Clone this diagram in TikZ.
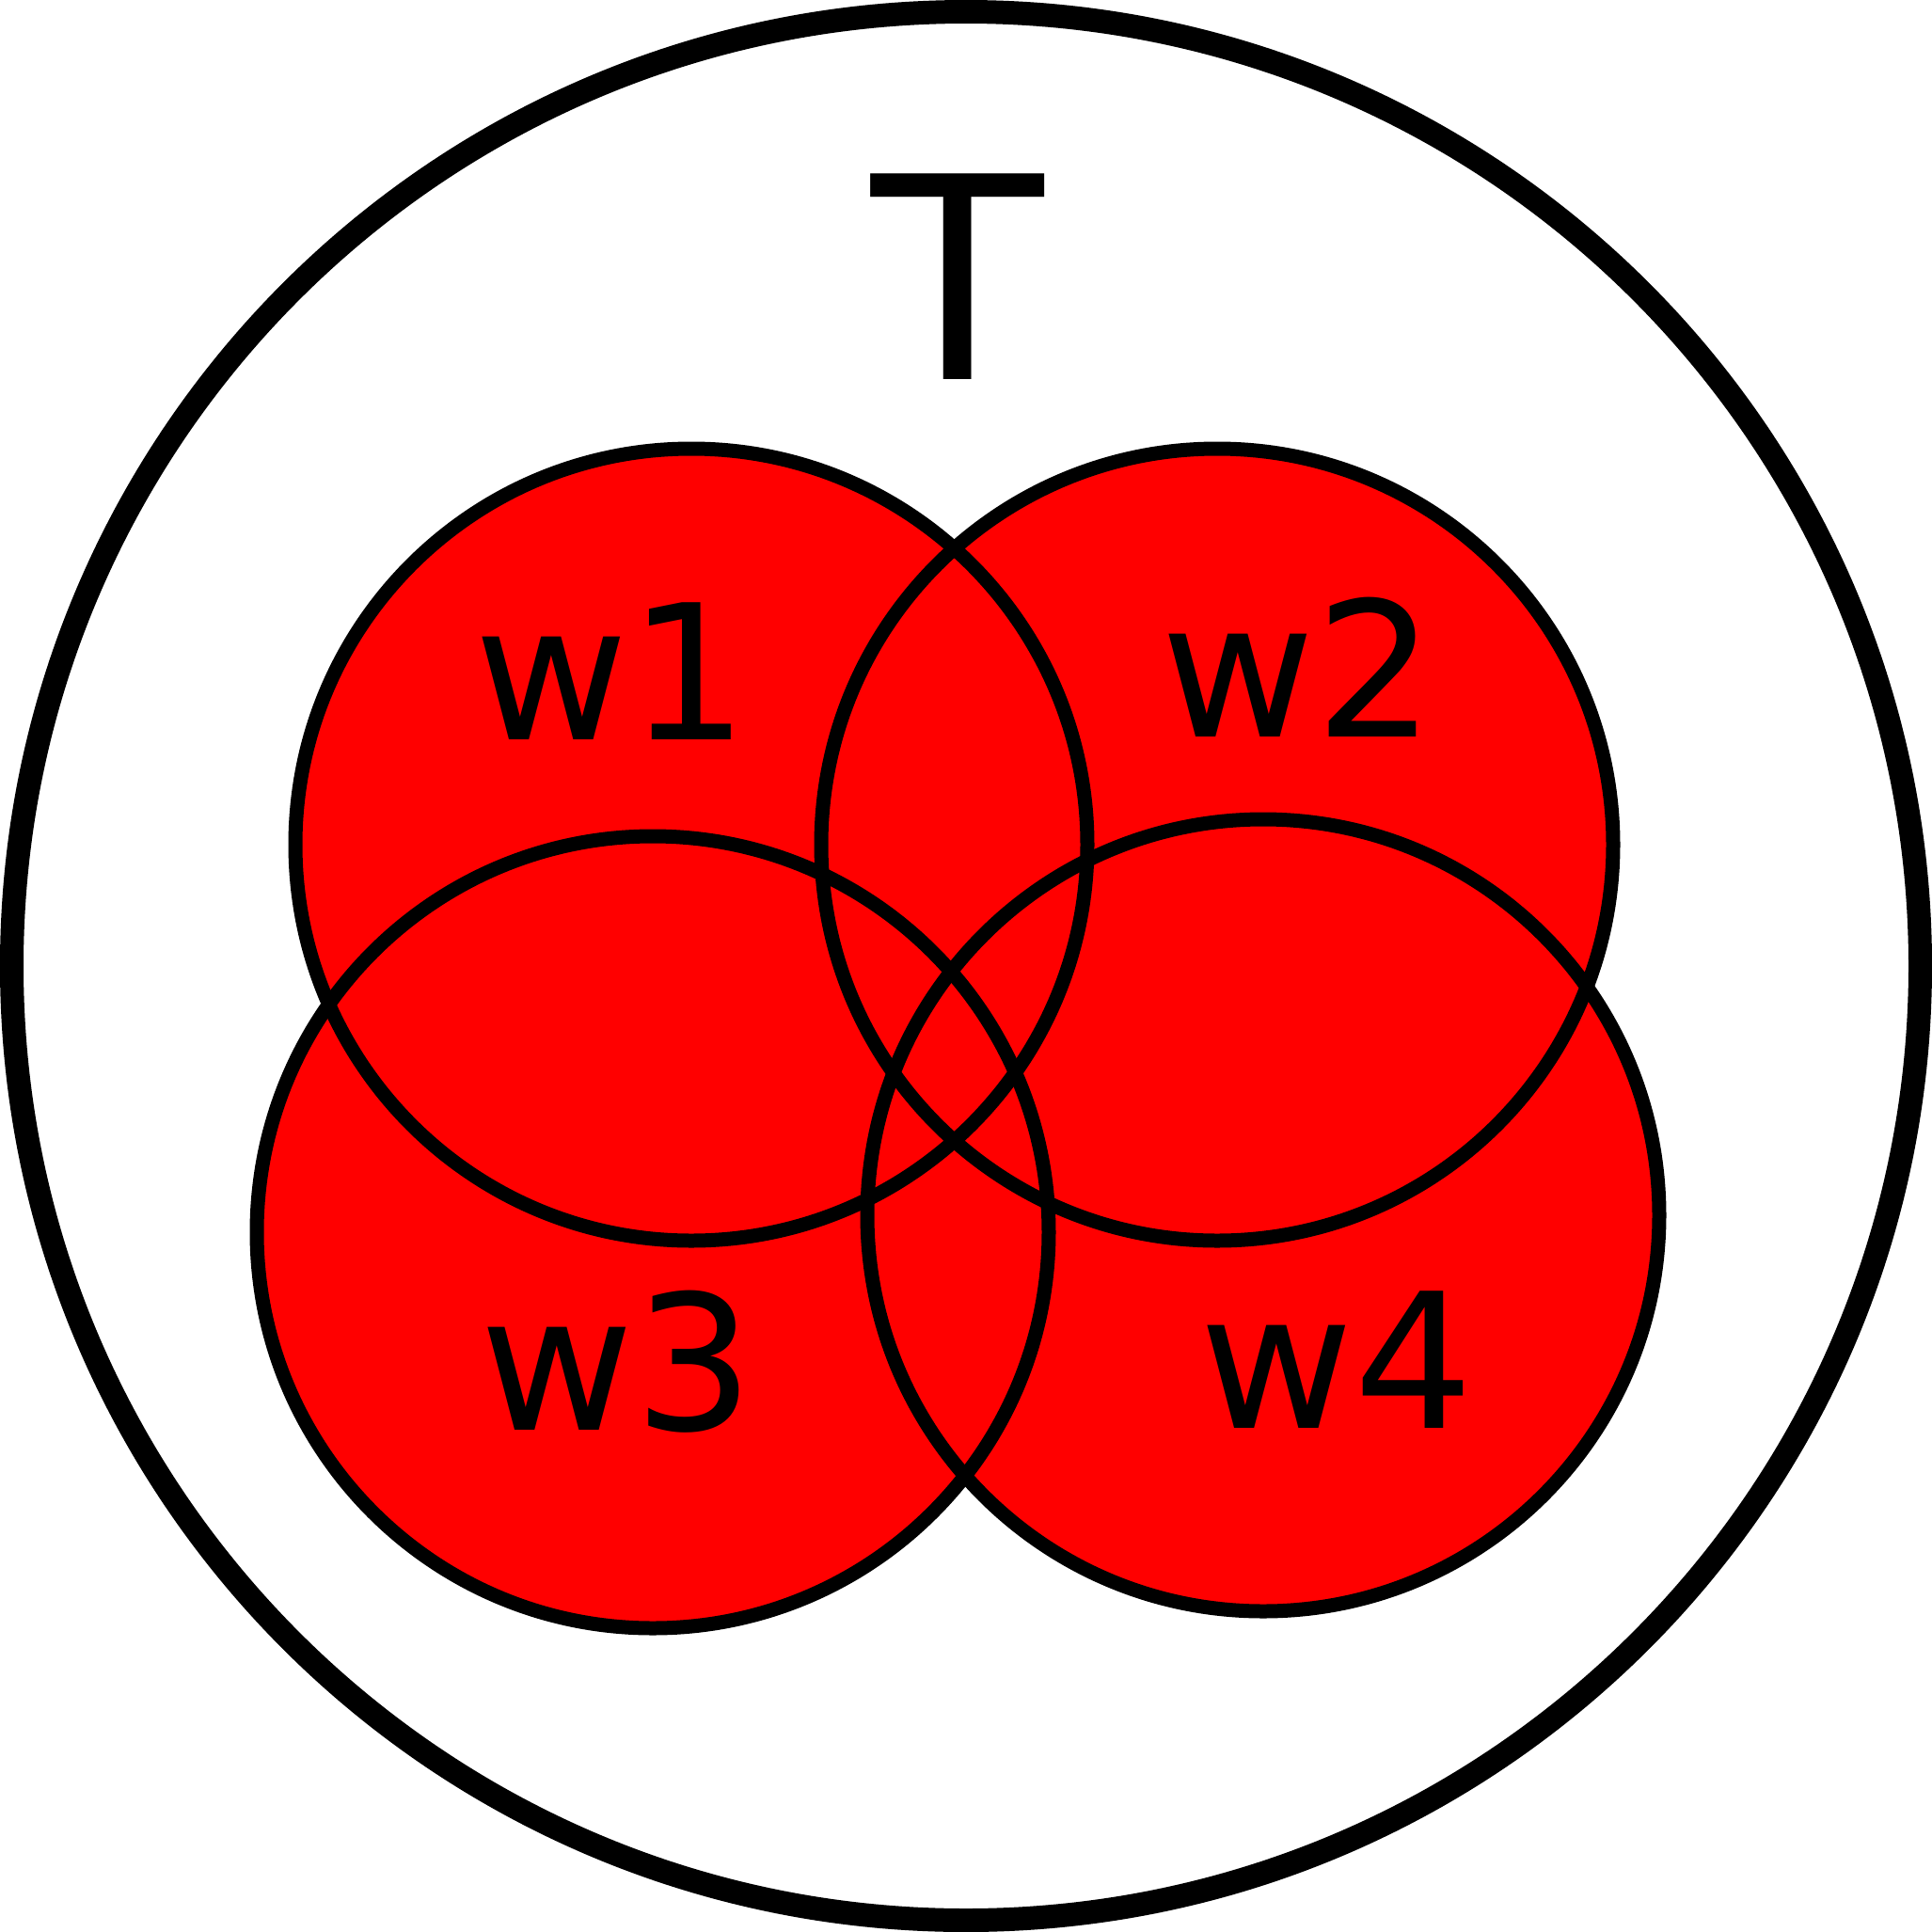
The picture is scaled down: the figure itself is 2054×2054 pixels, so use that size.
\documentclass[tikz,border=0pt]{standalone}
\usepackage{fontspec}
\setmainfont{DejaVu Sans}
\definecolor{setred}{RGB}{255,0,0}
\tikzset{
  setfill/.style={fill=setred},
  setline/.style={draw=black, line width=15pt},
  outerline/.style={draw=black, line width=25pt},
  biglabel/.style={inner sep=0pt, anchor=base, font=\fontsize{300}{360}\selectfont},
  setlabel/.style={inner sep=0pt, anchor=base, font=\fontsize{200}{240}\selectfont},
}
\begin{document}
\begin{tikzpicture}[x=1pt,y=-1pt]
\useasboundingbox (0,0) rectangle (2054,2054);
\fill[white] (0,0) rectangle (2054,2054);
% universe
\draw[outerline] (1027,1027) circle[radius=1014.5];
\node[biglabel] (T) at (1018,403) {T};
% set centres
\coordinate (c1) at (735,898);
\coordinate (c2) at (1294,898);
\coordinate (c3) at (694,1310);
\coordinate (c4) at (1343,1292);
% fills
\fill[setfill] (c1) circle[radius=421];
\fill[setfill] (c2) circle[radius=421];
\fill[setfill] (c3) circle[radius=421];
\fill[setfill] (c4) circle[radius=421];
% outlines
\draw[setline] (c1) circle[radius=421];
\draw[setline] (c2) circle[radius=421];
\draw[setline] (c3) circle[radius=421];
\draw[setline] (c4) circle[radius=421];
% labels
\node[setlabel] (w1) at (650,786) {w1};
\node[setlabel] (w2) at (1380,783) {w2};
\node[setlabel] (w3) at (656,1520) {w3};
\node[setlabel] (w4) at (1421,1518) {w4};
\end{tikzpicture}
\end{document}
